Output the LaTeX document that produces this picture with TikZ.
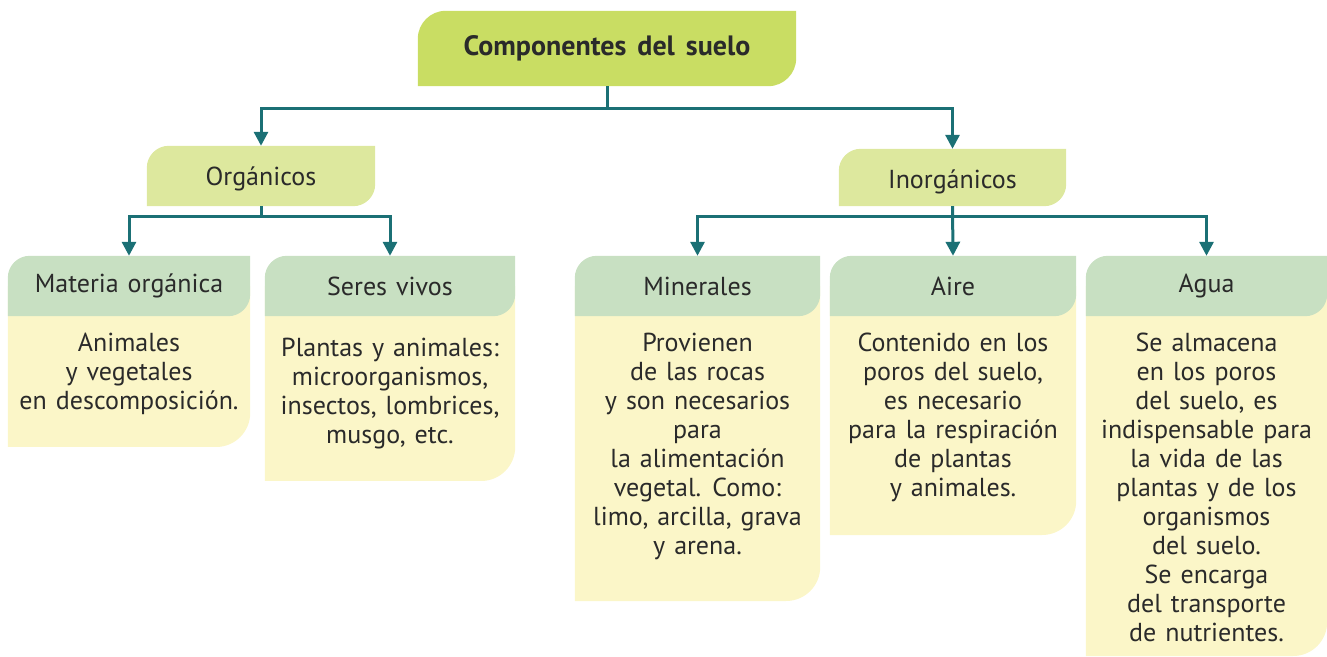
\documentclass[tikz,border=0pt]{standalone}
\usepackage{fontspec}
\setmainfont{PT Sans}
\usetikzlibrary{arrows.meta,calc}
\pgfdeclarelayer{background}
\pgfsetlayers{background,main}
\definecolor{titlefill}{HTML}{C9DD63}
\definecolor{groupfill}{HTML}{DDE89E}
\definecolor{headfill}{HTML}{C8E0C2}
\definecolor{bodyfill}{HTML}{FBF6C8}
\definecolor{linkcol}{HTML}{1B7075}
\definecolor{ink}{HTML}{2A2A2A}
\newcommand\leaffont{\fontsize{26}{29}\selectfont\spaceskip=9pt plus 2pt\relax}
\newcommand\titlefont{\fontsize{28}{30}\selectfont\bfseries\spaceskip=11pt\relax}
% leaf shape: rounded top left and bottom right
\newcommand\leafhead[3]{%
  \fill[#2] let \p1=(#1.south west), \p2=(#1.north east) in
    (\x1,\y1) -- (\x1,\y2-#3) arc[start angle=180,end angle=90,radius=#3]
    -- (\x2,\y2) -- (\x2,\y1+#3) arc[start angle=0,end angle=-90,radius=#3] -- cycle;}
\newcommand\leafbody[3]{%
  \fill[bodyfill] let \p1=(#1.west), \p2=(#1.east) in
    (\x1,\y1) -- (\x1,#2) -- (\x2-#3,#2) arc[start angle=-90,end angle=0,radius=#3]
    -- (\x2,\y2) -- cycle;}
\begin{document}
\begin{tikzpicture}[x=1pt, y=1pt,
  title/.style={font=\titlefont, text=ink,
    inner sep=0pt, minimum width=378pt, minimum height=75pt},
  group/.style={font=\leaffont, text=ink, inner sep=0pt, text height=25pt, text depth=6pt,
    minimum width=228pt, minimum height=60pt},
  leafhead/.style={font=\leaffont, text=ink, inner sep=0pt,
    minimum height=60pt},
  leaftext/.style={font=\leaffont, text=ink, inner sep=0pt,
    align=center, anchor=north},
  link/.style={linkcol, line width=3pt, -{Triangle[length=14pt,width=14pt]}},
]
  \useasboundingbox (0,0) rectangle (1327,656);

  \node[title] (suelo) at (607,607.5) {Componentes del suelo};
  \node[group] (org)   at (261,480)   {Orgánicos};
  \node[group, minimum width=227pt, minimum height=57pt, text height=29pt] (inorg) at (952.5,478.5) {Inorgánicos};

  \node[leafhead, minimum width=242pt] (mat)   at (129,370)    {Materia orgánica};
  \node[leafhead, minimum width=250pt] (seres) at (390,370)    {Seres vivos};
  \node[leafhead, minimum width=245pt] (minl)  at (697.5,370)  {Minerales};
  \node[leafhead, minimum width=246pt] (aire)  at (953,370)    {Aire};
  \node[leafhead, minimum width=241pt] (agua)  at (1206.5,370) {Agua};

  \node[leaftext] (mattxt)   at (129,323)    {Animales\\y vegetales\\en descomposición.};
  \node[leaftext] (serestxt) at (390,318)    {Plantas y animales:\\microorganismos,\\insectos, lombrices,\\musgo, etc.};
  \node[leaftext] (minltxt)  at (697.5,323)  {Provienen\\de las rocas\\y son necesarios\\para\\la alimentación\\vegetal. Como:\\limo, arcilla, grava\\y arena.};
  \node[leaftext] (airetxt)  at (953,323)    {Contenido en los\\poros del suelo,\\es necesario\\para la respiración\\de plantas\\y animales.};
  \node[leaftext] (aguatxt)  at (1206.5,323) {Se almacena\\en los poros\\del suelo, es\\indispensable para\\la vida de las\\plantas y de los\\organismos\\del suelo.\\Se encarga\\del transporte\\de nutrientes.};

  \begin{pgfonlayer}{background}
    \leafbody{mat}{209}{34pt}
    \leafbody{seres}{175}{34pt}
    \leafbody{minl}{55}{34pt}
    \leafbody{aire}{121}{34pt}
    \leafbody{agua}{0}{34pt}
    \leafhead{suelo}{titlefill}{28pt}
    \leafhead{org}{groupfill}{22pt}
    \leafhead{inorg}{groupfill}{22pt}
    \leafhead{mat}{headfill}{22pt}
    \leafhead{seres}{headfill}{22pt}
    \leafhead{minl}{headfill}{22pt}
    \leafhead{aire}{headfill}{22pt}
    \leafhead{agua}{headfill}{22pt}
  \end{pgfonlayer}

  \draw[link] (suelo.south) -- ++(0,-22) -| (org.north);
  \draw[link] (suelo.south) -- ++(0,-22) -| (inorg.north);
  \draw[link] (org.south) -- ++(0,-10) -| (mat.north);
  \draw[link] (org.south) -- ++(0,-10) -| (seres.north);
  \draw[link] (inorg.south) -- ++(0,-10) -| (minl.north);
  \draw[link] (inorg.south) -- (aire.north);
  \draw[link] (inorg.south) -- ++(0,-10) -| (agua.north);
\end{tikzpicture}
\end{document}
